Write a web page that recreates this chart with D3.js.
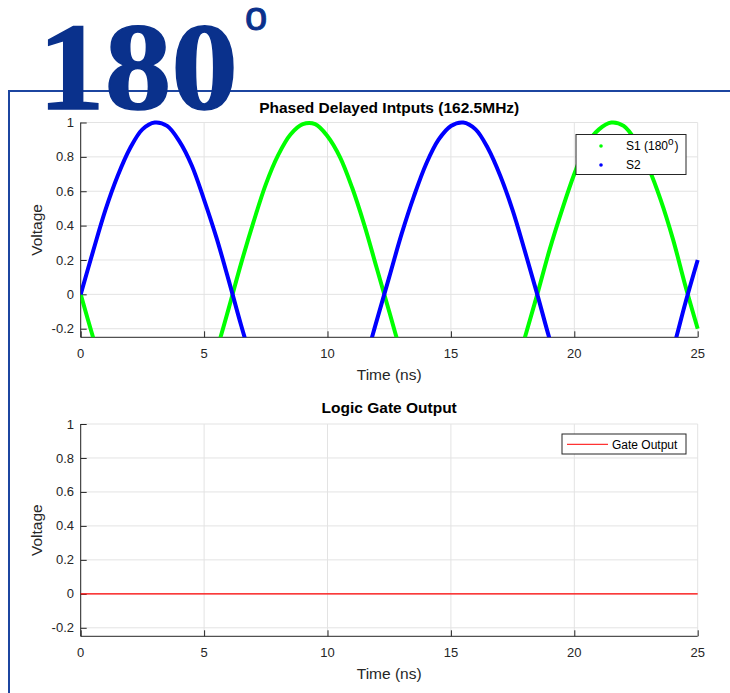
<!DOCTYPE html>
<html>
<head>
<meta charset="utf-8">
<script src="https://cdn.jsdelivr.net/npm/d3@7"></script>
<style>
  body { margin: 0; background: #fff; }
  svg text { font-family: "Liberation Sans", Arial, sans-serif; }
</style>
</head>
<body>
<svg id="chart" width="730" height="693"></svg>
<script>
// data
var timeNs = [0, 0.5, 1, 1.5, 2, 2.5, 3, 3.5, 4, 4.5, 5, 5.5, 6, 6.5, 7, 7.5, 8, 8.5, 9, 9.5,
  10, 10.5, 11, 11.5, 12, 12.5, 13, 13.5, 14, 14.5, 15, 15.5, 16, 16.5, 17, 17.5, 18, 18.5, 19, 19.5,
  20, 20.5, 21, 21.5, 22, 22.5, 23, 23.5, 24, 24.5, 25];
var s2Values = [0, 0.25, 0.49, 0.69, 0.85, 0.96, 1.00, 0.98, 0.89, 0.75, 0.55, 0.33, 0.08, -0.18, -0.42, -0.64, -0.81, -0.93, -0.99, -0.99,
  -0.92, -0.80, -0.62, -0.40, -0.15, 0.10, 0.35, 0.57, 0.76, 0.90, 0.98, 1.00, 0.96, 0.85, 0.69, 0.49, 0.25, 0.00, -0.26, -0.49,
  -0.70, -0.87, -0.96, -1.00, -0.98, -0.89, -0.74, -0.55, -0.32, -0.05, 0.20];
var s1Values = [0, -0.25, -0.49, -0.69, -0.85, -0.96, -1.00, -0.98, -0.89, -0.75, -0.55, -0.33, -0.08, 0.18, 0.42, 0.64, 0.81, 0.93, 0.99, 0.99,
  0.92, 0.80, 0.62, 0.40, 0.15, -0.10, -0.35, -0.57, -0.76, -0.90, -0.98, -1.00, -0.96, -0.85, -0.69, -0.49, -0.25, 0.00, 0.26, 0.49,
  0.70, 0.87, 0.96, 1.00, 0.98, 0.89, 0.74, 0.55, 0.32, 0.05, -0.20];
var gateTime = [0, 25];
var gateValues = [0, 0];
var xTicks = [0, 5, 10, 15, 20, 25];
var yTicks = [-0.2, 0, 0.2, 0.4, 0.6, 0.8, 1];

var axisColor = '#262626';
var gridColor = '#e3e3e3';
var svg = d3.select('#chart');

// frame round the slide
svg.append('path')
  .attr('d', 'M9,693 L9,91 L730,91')
  .attr('fill', 'none')
  .attr('stroke', '#1c45a0')
  .attr('stroke-width', 2);

var x = d3.scaleLinear().domain([0, 25]).range([80.7, 697.7]);

function drawPanel(top, bottom, title, titleY, xLabelY) {
  var y = d3.scaleLinear().domain([-0.25, 1]).range([bottom, top]);
  var g = svg.append('g');

  // grid
  g.selectAll('.gx').data(xTicks).enter().append('line')
    .attr('x1', d => x(d)).attr('x2', d => x(d))
    .attr('y1', top).attr('y2', bottom)
    .attr('stroke', gridColor);
  g.selectAll('.gy').data(yTicks).enter().append('line')
    .attr('x1', x(0)).attr('x2', x(25))
    .attr('y1', d => y(d)).attr('y2', d => y(d))
    .attr('stroke', gridColor);

  // axes, ticks inward
  var yAxis = d3.axisRight(y).tickValues(yTicks).tickSize(6).tickFormat('');
  var xAxis = d3.axisTop(x).tickValues(xTicks).tickSize(6).tickFormat('');
  g.append('g').attr('transform', 'translate(' + x(0) + ',0)').call(yAxis)
    .call(a => a.select('.domain').attr('d', 'M0,' + top + 'V' + bottom))
    .call(a => a.selectAll('line,path').attr('stroke', axisColor));
  g.append('g').attr('transform', 'translate(0,' + bottom + ')').call(xAxis)
    .call(a => a.select('.domain').attr('d', 'M' + x(0) + ',0H' + x(25)))
    .call(a => a.selectAll('line,path').attr('stroke', axisColor));

  // tick labels
  g.selectAll('.ly').data(yTicks).enter().append('text')
    .attr('x', 74).attr('y', d => y(d)).attr('dy', '0.35em')
    .attr('text-anchor', 'end').attr('font-size', 13).attr('fill', axisColor)
    .text(d => String(d));
  g.selectAll('.lx').data(xTicks).enter().append('text')
    .attr('x', d => x(d)).attr('y', bottom + 16).attr('dy', '0.35em')
    .attr('text-anchor', 'middle').attr('font-size', 13).attr('fill', axisColor)
    .text(d => String(d));

  g.append('text')
    .attr('x', (x(0) + x(25)) / 2).attr('y', titleY).attr('dy', '0.35em')
    .attr('text-anchor', 'middle').attr('font-size', 15.5).attr('font-weight', 'bold')
    .attr('fill', '#000').text(title);
  g.append('text')
    .attr('x', (x(0) + x(25)) / 2).attr('y', xLabelY).attr('dy', '0.35em')
    .attr('text-anchor', 'middle').attr('font-size', 15.5).attr('fill', axisColor)
    .text('Time (ns)');
  g.append('text')
    .attr('transform', 'translate(37,' + (top + bottom) / 2 + ') rotate(-90)')
    .attr('dy', '0.35em')
    .attr('text-anchor', 'middle').attr('font-size', 15.5).attr('fill', axisColor)
    .text('Voltage');
  return y;
}

var y1 = drawPanel(122.5, 337.3, 'Phased Delayed Intputs (162.5MHz)', 108, 375);
var y2 = drawPanel(424, 636.3, 'Logic Gate Output', 408, 674);

// clip for the top panel
svg.append('defs').append('clipPath').attr('id', 'clip1')
  .append('rect').attr('x', x(0)).attr('y', 122.5 - 3)
  .attr('width', x(25) - x(0) + 3).attr('height', 337.3 - 122.5 + 3);

var line1 = d3.line().x((d, i) => x(timeNs[i])).y(d => y1(d)).curve(d3.curveCatmullRom);
var plot1 = svg.append('g').attr('clip-path', 'url(#clip1)');
plot1.append('path').attr('d', line1(s1Values))
  .attr('fill', 'none').attr('stroke', '#00ff00').attr('stroke-width', 4);
plot1.append('path').attr('d', line1(s2Values))
  .attr('fill', 'none').attr('stroke', '#0000ff').attr('stroke-width', 4);

var line2 = d3.line().x((d, i) => x(gateTime[i])).y(d => y2(d));
svg.append('path').attr('d', line2(gateValues))
  .attr('fill', 'none').attr('stroke', '#ff0000').attr('stroke-width', 1.3);

// legend, top panel
var leg1 = svg.append('g');
leg1.append('rect').attr('x', 576).attr('y', 134.5).attr('width', 110).attr('height', 40)
  .attr('fill', '#fff').attr('stroke', axisColor).attr('stroke-width', 1);
leg1.append('circle').attr('cx', 601).attr('cy', 146).attr('r', 1.8).attr('fill', '#00ff00');
leg1.append('circle').attr('cx', 601).attr('cy', 165).attr('r', 1.8).attr('fill', '#0000ff');
var t1 = leg1.append('text').attr('x', 626).attr('y', 150).attr('font-size', 12).attr('fill', '#000');
t1.append('tspan').text('S1 (180');
t1.append('tspan').attr('font-size', 10).attr('dy', -5).text('o');
t1.append('tspan').attr('dy', 5).attr('dx', 1).text(')');
leg1.append('text').attr('x', 626).attr('y', 169).attr('font-size', 12).attr('fill', '#000').text('S2');

// legend, bottom panel
var leg2 = svg.append('g');
leg2.append('rect').attr('x', 562).attr('y', 434).attr('width', 124).attr('height', 20)
  .attr('fill', '#fff').attr('stroke', axisColor).attr('stroke-width', 1);
leg2.append('line').attr('x1', 567).attr('x2', 608).attr('y1', 444.3).attr('y2', 444.3)
  .attr('stroke', '#ff0000').attr('stroke-width', 1);
leg2.append('text').attr('x', 612).attr('y', 448.5).attr('font-size', 12).attr('fill', '#000')
  .text('Gate Output');

// big heading
var head = svg.append('text')
  .attr('x', 38).attr('y', 109)
  .attr('fill', '#0a318c')
  .attr('stroke', '#0a318c').attr('stroke-width', 1.5)
  .style('font-family', '"Liberation Serif", "DejaVu Serif", serif');
head.append('tspan').attr('font-size', 124).attr('font-weight', 'bold')
  .attr('textLength', 200).attr('lengthAdjust', 'spacingAndGlyphs').text('180');
head.append('tspan').attr('x', 245).attr('y', 30).attr('font-size', 40).attr('stroke-width', 1)
  .style('font-family', '"Liberation Sans", Arial, sans-serif').text('o');
</script>
</body>
</html>
